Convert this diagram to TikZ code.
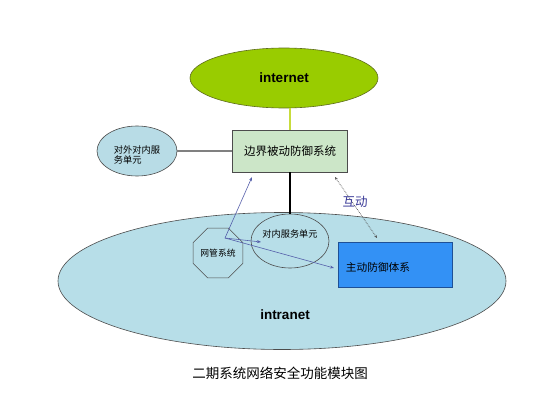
\documentclass[tikz,border=0pt]{standalone}
\usepackage{fontspec}
\setmainfont{Liberation Sans}
\newfontfamily\cjk{Noto Sans CJK SC}
\usetikzlibrary{shapes.geometric,arrows.meta}
\definecolor{inetfill}{RGB}{153,204,0}
\definecolor{inetdraw}{RGB}{95,110,30}
\definecolor{yline}{RGB}{200,220,60}
\definecolor{boxfill}{RGB}{204,230,200}
\definecolor{extfill}{RGB}{184,220,230}
\definecolor{intrafill}{RGB}{183,222,232}
\definecolor{activefill}{RGB}{51,145,245}
\definecolor{activedraw}{RGB}{30,80,150}
\definecolor{arrowc}{RGB}{85,95,170}
\definecolor{hudongc}{RGB}{55,55,150}
\tikzset{
  outl/.style={draw=black!70, line width=0.6pt},
  cjktext/.style={font=\cjk\fontsize{#1}{#1}\selectfont},
  arr/.style={draw=arrowc, line width=0.6pt, -{Stealth[length=4pt,width=3pt]}},
}
\begin{document}
\begin{tikzpicture}[x=1pt,y=-1pt]
\fill[white] (0,0) rectangle (554,415);
\useasboundingbox (0,0) rectangle (554,415);
% intranet
\node[ellipse, outl, fill=intrafill, minimum width=448pt, minimum height=137pt, inner sep=0] (intranet) at (282,281) {};
\node[font=\bfseries\fontsize{13.5}{13.5}\selectfont] (intralabel) at (285,315) {intranet};
% internet
\node[ellipse, draw=inetdraw, line width=0.6pt, fill=inetfill, minimum width=188pt, minimum height=60pt, inner sep=0, font=\bfseries\fontsize{13.5}{13.5}\selectfont] (internet) at (284,78) {internet};
% border box
\node[rectangle, outl, fill=boxfill, minimum width=115pt, minimum height=42pt, inner sep=0, cjktext=11.5] (border) at (290,151) {边界被动防御系统};
% external ellipse
\node[ellipse, outl, fill=extfill, minimum width=80pt, minimum height=50pt, inner sep=0] (ext) at (137,151) {};
\node[cjktext=9.3, align=left, inner sep=0] (extlabel) at (137,155) {对外对内服\\务单元};
% inner service ellipse
\node[ellipse, outl, minimum width=78pt, minimum height=54pt, inner sep=0] (inner) at (290,241) {};
\node[cjktext=9.2, inner sep=0] (innerlabel) at (290,234) {对内服务单元};
% octagon
\node[regular polygon, regular polygon sides=8, outl, fill=intrafill, minimum size=54pt, inner sep=0, cjktext=8.8] (nms) at (218,253) {网管系统};
% active defense
\node[rectangle, draw=activedraw, line width=0.6pt, fill=activefill, minimum width=114pt, minimum height=45pt, inner sep=0] (active) at (395,264.5) {};
\node[cjktext=10.7, inner sep=0] (activelabel) at (378,267) {主动防御体系};
% connectors
\draw[yline, line width=1.4pt] (border.north) -- (border.north |- internet.south);
\draw[black!50, line width=1.4pt] (ext.east) -- (border.west);
\draw[black, line width=1.6pt] (border.south) -- (inner.north);
\coordinate (nmsp) at (225,238);
\coordinate (a1) at (252,177);
\coordinate (a2) at (261,242);
\coordinate (a3) at (334,268);
\draw[arr] (nmsp) -- (a1);
\draw[arr] (nmsp) -- (a2);
\draw[arr] (nmsp) -- (a3);
\coordinate (d1) at (335,177);
\coordinate (d2) at (377,238);
\draw[black!70, line width=0.7pt, densely dotted, {Stealth[length=3pt,width=2.5pt]}-{Stealth[length=3pt,width=2.5pt]}] (d1) -- (d2);
\node[cjktext=12.5, text=hudongc, inner sep=0] (hudong) at (355,202) {互动};
% caption
\node[cjktext=13.5, inner sep=0] (caption) at (280,373) {二期系统网络安全功能模块图};
\end{tikzpicture}
\end{document}
